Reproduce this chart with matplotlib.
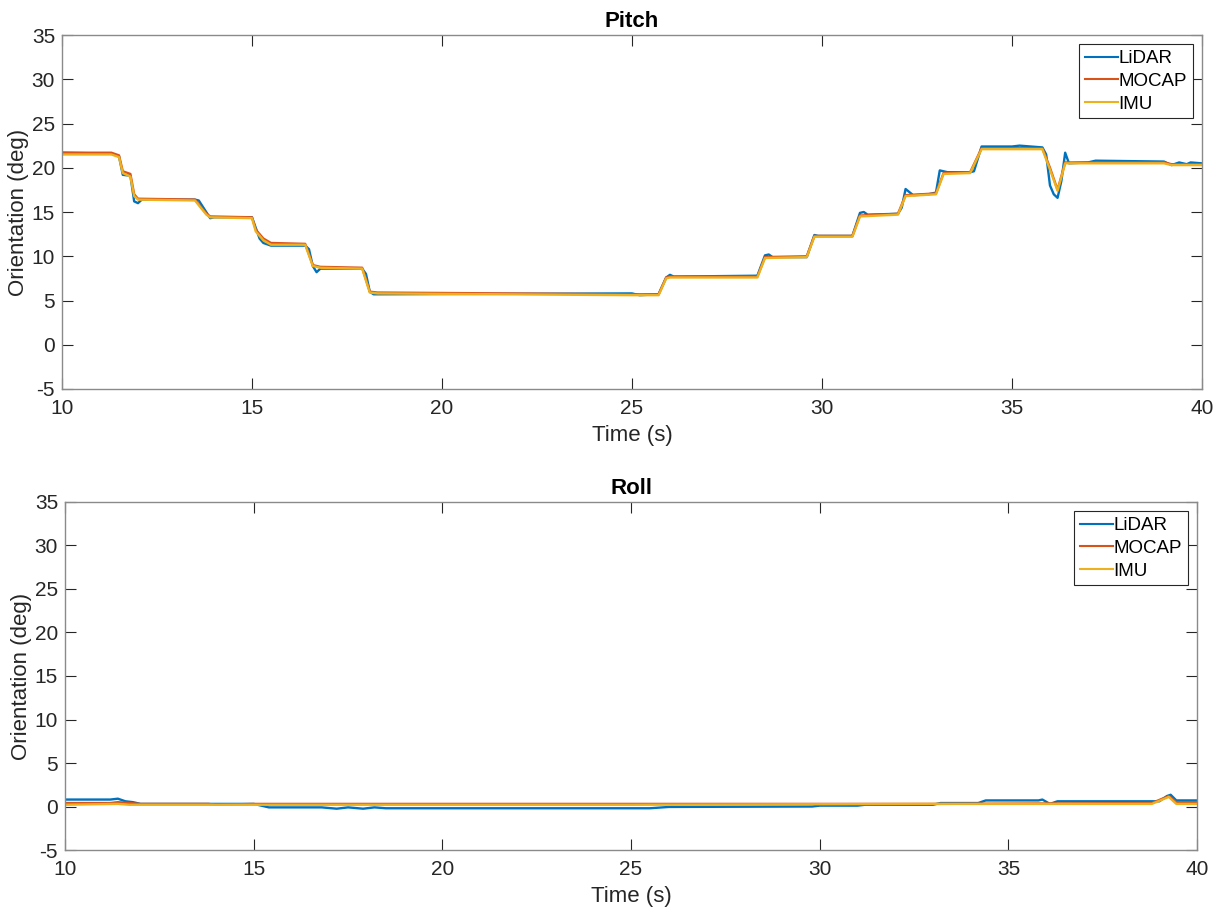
import matplotlib.pyplot as plt

plt.rcParams['font.family'] = ['Liberation Sans', 'DejaVu Sans']
plt.rcParams['axes.unicode_minus'] = False

# Pitch data (time s, orientation deg)
pitch_lidar_t = [10.0, 11.3, 11.5, 11.6, 11.8, 11.9, 12.0, 12.1, 13.5, 13.6, 13.9, 14.0, 15.0,
                 15.2, 15.3, 15.5, 16.4, 16.5, 16.6, 16.7, 16.8, 17.9, 18.0, 18.1, 18.2, 25.0,
                 25.2, 25.7, 25.9, 26.0, 26.1, 28.3, 28.5, 28.6, 28.7, 29.6, 29.8, 29.9, 30.8,
                 31.0, 31.1, 31.2, 32.0, 32.1, 32.2, 32.4, 32.8, 33.0, 33.1, 33.2, 33.3, 33.9,
                 34.0, 34.1, 34.2, 35.0, 35.2, 35.8, 35.9, 36.0, 36.1, 36.2, 36.3, 36.4, 36.5,
                 37.0, 37.2, 39.0, 39.2, 39.4, 39.6, 39.7, 40.0]
pitch_lidar = [21.7, 21.6, 21.3, 19.2, 19.1, 16.2, 16.0, 16.4, 16.4, 16.3, 14.3, 14.4, 14.4,
               12.0, 11.5, 11.2, 11.2, 10.8, 8.9, 8.2, 8.6, 8.6, 8.0, 6.0, 5.7, 5.8,
               5.6, 5.7, 7.6, 7.9, 7.7, 7.8, 10.1, 10.2, 9.9, 9.9, 12.4, 12.3, 12.3,
               14.9, 15.0, 14.7, 14.8, 15.5, 17.6, 16.9, 17.0, 17.2, 19.7, 19.6, 19.5, 19.5,
               19.6, 21.0, 22.4, 22.4, 22.5, 22.3, 21.5, 18.0, 17.0, 16.6, 18.5, 21.7, 20.5,
               20.6, 20.8, 20.7, 20.3, 20.6, 20.4, 20.6, 20.5]

pitch_mocap_t = [10.0, 11.3, 11.5, 11.6, 11.8, 11.9, 12.0, 13.5, 13.8, 13.9, 15.0, 15.1, 15.3,
                 15.5, 16.4, 16.6, 16.8, 17.9, 18.1, 18.3, 25.0, 25.7, 25.9, 26.0, 28.3, 28.5,
                 29.6, 29.8, 30.8, 31.0, 32.0, 32.2, 33.0, 33.2, 33.9, 34.2, 35.8, 36.0, 36.2,
                 36.4, 39.0, 39.2, 40.0]
pitch_mocap = [21.7, 21.7, 21.4, 19.6, 19.3, 17.0, 16.5, 16.4, 14.8, 14.5, 14.4, 13.0, 12.0,
               11.5, 11.4, 9.0, 8.8, 8.7, 6.0, 5.9, 5.7, 5.7, 7.6, 7.7, 7.7, 9.9,
               10.0, 12.3, 12.3, 14.6, 14.8, 16.9, 17.1, 19.4, 19.5, 22.2, 22.2, 20.0, 17.5,
               20.6, 20.6, 20.4, 20.4]

pitch_imu_t = [10.0, 11.3, 11.5, 11.6, 11.8, 11.9, 12.0, 13.5, 13.8, 13.9, 15.0, 15.1, 15.3,
               15.5, 16.4, 16.6, 16.8, 17.9, 18.1, 18.3, 25.0, 25.7, 25.9, 26.0, 28.3, 28.5,
               29.6, 29.8, 30.8, 31.0, 32.0, 32.2, 33.0, 33.2, 33.9, 34.2, 35.8, 36.0, 36.2,
               36.4, 39.0, 39.2, 40.0]
pitch_imu = [21.5, 21.5, 21.2, 19.4, 19.0, 16.8, 16.4, 16.3, 14.7, 14.4, 14.3, 12.8, 11.8,
             11.3, 11.3, 8.9, 8.7, 8.6, 5.9, 5.8, 5.6, 5.6, 7.5, 7.6, 7.6, 9.8,
             9.9, 12.2, 12.2, 14.5, 14.7, 16.8, 17.0, 19.3, 19.4, 22.1, 22.1, 19.8, 17.4,
             20.5, 20.5, 20.3, 20.3]

# Roll data
roll_lidar_t = [10.0, 11.2, 11.4, 11.6, 11.8, 12.0, 15.0, 15.4, 16.8, 17.2, 17.5, 17.9, 18.2,
                18.5, 25.5, 26.0, 29.8, 30.0, 31.0, 31.2, 33.0, 33.2, 34.2, 34.4, 35.8, 35.9,
                36.1, 36.3, 39.0, 39.2, 39.3, 39.45, 40.0]
roll_lidar = [0.8, 0.8, 0.9, 0.6, 0.5, 0.3, 0.3, -0.1, -0.1, -0.25, -0.1, -0.25, -0.1,
              -0.2, -0.2, -0.05, 0.0, 0.1, 0.1, 0.2, 0.2, 0.4, 0.4, 0.7, 0.7, 0.8,
              0.3, 0.6, 0.6, 1.2, 1.35, 0.7, 0.7]

roll_mocap_t = [10.0, 11.2, 11.4, 11.7, 12.0, 13.8, 14.0, 15.0, 33.0, 38.8, 39.25, 39.45, 40.0]
roll_mocap = [0.4, 0.4, 0.5, 0.4, 0.3, 0.3, 0.2, 0.3, 0.3, 0.4, 1.2, 0.5, 0.5]

roll_imu_t = [10.0, 11.4, 11.7, 12.0, 15.0, 25.0, 33.0, 38.8, 39.25, 39.45, 40.0]
roll_imu = [0.2, 0.3, 0.2, 0.2, 0.2, 0.2, 0.3, 0.3, 1.1, 0.3, 0.3]

series_names = ['LiDAR', 'MOCAP', 'IMU']
colors = ['#0072BD', '#D95319', '#EDB120']

fig = plt.figure(figsize=(12.25, 9.14), dpi=100)
ax1 = fig.add_axes([0.0506, 0.5744, 0.9306, 0.3873])
ax2 = fig.add_axes([0.0531, 0.0700, 0.9241, 0.3808])

panels = [
    (ax1, 'Pitch', [(pitch_lidar_t, pitch_lidar), (pitch_mocap_t, pitch_mocap), (pitch_imu_t, pitch_imu)]),
    (ax2, 'Roll', [(roll_lidar_t, roll_lidar), (roll_mocap_t, roll_mocap), (roll_imu_t, roll_imu)]),
]

for ax, title, data in panels:
    for (t, v), name, c in zip(data, series_names, colors):
        ax.plot(t, v, color=c, lw=1.7, label=name)
    ax.set_xlim(10, 40)
    ax.set_ylim(-5, 35)
    ax.set_xticks(range(10, 41, 5))
    ax.set_yticks(range(-5, 36, 5))
    ax.tick_params(direction='in', top=True, right=True, length=8, width=0.8,
                   color='#262626', labelsize=15, labelcolor='#262626', pad=5)
    ax.tick_params(axis='x', pad=7)
    for s in ax.spines.values():
        s.set_color('#8a8a8a')
        s.set_linewidth(1.0)
    ax.set_title(title, fontsize=16, fontweight='bold', pad=6)
    ax.set_xlabel('Time (s)', fontsize=16, color='#262626', labelpad=5)
    ax.set_ylabel('Orientation (deg)', fontsize=16, color='#262626', labelpad=2)
    leg = ax.legend(loc='upper right', fontsize=13.5, fancybox=False, framealpha=1,
                    borderpad=0.3, labelspacing=0.3, handlelength=1.75,
                    handletextpad=0.05, borderaxespad=0.5)
    leg.get_frame().set_edgecolor('#262626')
    leg.get_frame().set_linewidth(0.8)
    for h in leg.get_lines():
        h.set_linewidth(1.5)

fig.savefig('out.png', dpi=100)
